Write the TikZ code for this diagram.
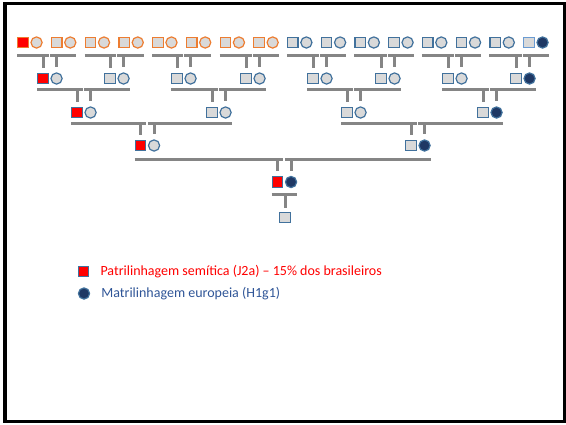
\documentclass[tikz,border=0pt]{standalone}
\usepackage{fontspec}
\setmainfont{Carlito}
\usetikzlibrary{positioning}
\definecolor{orangeline}{HTML}{ED7D31}
\definecolor{blueline}{HTML}{41719C}
\definecolor{lightblueline}{HTML}{6A9BD2}
\definecolor{symfill}{HTML}{D9D9D9}
\definecolor{darkblue}{HTML}{1F3864}
\definecolor{bargray}{HTML}{858585}
\definecolor{textblue}{HTML}{2F5597}
\tikzstyle{male} = [rectangle, minimum size=10.5pt, inner sep=0pt, line width=1.2pt, fill=symfill]
\tikzstyle{female} = [circle, minimum size=11.2pt, inner sep=0pt, line width=1.2pt, fill=symfill]
\tikzstyle{orangepair} = [draw=orangeline]
\tikzstyle{bluepair} = [draw=blueline]
\tikzstyle{bar} = [line width=3pt, draw=bargray]
\tikzstyle{keytext} = [inner sep=0pt, font=\fontsize{14}{17}\selectfont]

\begin{document}
\begin{tikzpicture}[x=1pt, y=1pt]
\useasboundingbox (0,0) rectangle (566,-424);
\draw[line width=3.5pt] (5,-3.5) rectangle (565,-421.5);

% bar heights per generation
\coordinate (bar1) at (0,-55);
\coordinate (bar2) at (0,-89);
\coordinate (bar3) at (0,-123.5);
\coordinate (bar4) at (0,-159);
\coordinate (bar5) at (0,-194);

% generation 1
\node (m1-1) [male, orangepair, fill=red] at (23,-42.5) {};
\node (f1-1) [female, orangepair, right=1.5pt of m1-1] {};
\foreach \k in {2,...,8} {
  \node (m1-\k) [male, orangepair] at ({23+33.73*(\k-1)},-42.5) {};
  \node (f1-\k) [female, orangepair, right=1.5pt of m1-\k] {};
}
\foreach \k in {9,...,15} {
  \node (m1-\k) [male, bluepair] at ({23+33.73*(\k-1)},-42.5) {};
  \node (f1-\k) [female, bluepair, right=1.5pt of m1-\k] {};
}
\node (m1-16) [male, draw=lightblueline] at (529,-42.5) {};
\node (f1-16) [female, bluepair, fill=darkblue, right=1.5pt of m1-16] {};

% generation 2
\foreach \k/\x/\mf/\ff in {1/43/red/symfill, 2/110/symfill/symfill, 3/177/symfill/symfill, 4/246/symfill/symfill,
    5/313/symfill/symfill, 6/381/symfill/symfill, 7/448/symfill/symfill, 8/516/symfill/darkblue} {
  \node (m2-\k) [male, bluepair, fill=\mf] at (\x,-78.5) {};
  \node (f2-\k) [female, bluepair, fill=\ff, right=1.5pt of m2-\k] {};
}

% generation 3
\foreach \k/\x/\mf/\ff in {1/77/red/symfill, 2/212/symfill/symfill, 3/347/symfill/symfill, 4/483/symfill/darkblue} {
  \node (m3-\k) [male, bluepair, fill=\mf] at (\x,-112.5) {};
  \node (f3-\k) [female, bluepair, fill=\ff, right=1.5pt of m3-\k] {};
}

% generation 4
\foreach \k/\x/\mf/\ff in {1/140.5/red/symfill, 2/411/symfill/darkblue} {
  \node (m4-\k) [male, bluepair, fill=\mf] at (\x,-145.5) {};
  \node (f4-\k) [female, bluepair, fill=\ff, right=1.5pt of m4-\k] {};
}

% generation 5 and child
\node (m5-1) [male, bluepair, fill=red] at (277.5,-182) {};
\node (f5-1) [female, bluepair, fill=darkblue, right=1.5pt of m5-1] {};
\node (kid) [male, bluepair] at (285,-217.5) {};

% descent lines
\foreach \l/\n in {1/8, 2/4, 3/2, 4/1} {
  \pgfmathtruncatemacro{\c}{\l+1}
  \foreach \k in {1,...,\n} {
    \pgfmathtruncatemacro{\a}{2*\k-1}
    \pgfmathtruncatemacro{\b}{2*\k}
    \draw[bar] (m\l-\a.west |- bar\l) -- (m\c-\k.east |- bar\l);
    \draw[bar] (f\c-\k.west |- bar\l) -- (f\l-\b.east |- bar\l);
    \draw[bar] (m\c-\k.north |- bar\l) -- ([yshift=5pt]m\c-\k.north);
    \draw[bar] (f\c-\k.north |- bar\l) -- ([yshift=5pt]f\c-\k.north);
  }
}
\draw[bar] (m5-1.west |- bar5) -- (f5-1.east |- bar5);
\draw[bar] (kid.north |- bar5) -- ([yshift=4pt]kid.north);

% legend
\node (keym) [male, bluepair, fill=red] at (83.5,-271.5) {};
\node (keytxt1) [keytext, text=red, right=11pt of keym] {Patrilinhagem semítica (J2a) – 15\% dos brasileiros};
\node (keyf) [female, bluepair, fill=darkblue] at (84,-293.5) {};
\node (keytxt2) [keytext, text=textblue, right=11pt of keyf] {Matrilinhagem europeia (H1g1)};

\end{tikzpicture}
\end{document}
